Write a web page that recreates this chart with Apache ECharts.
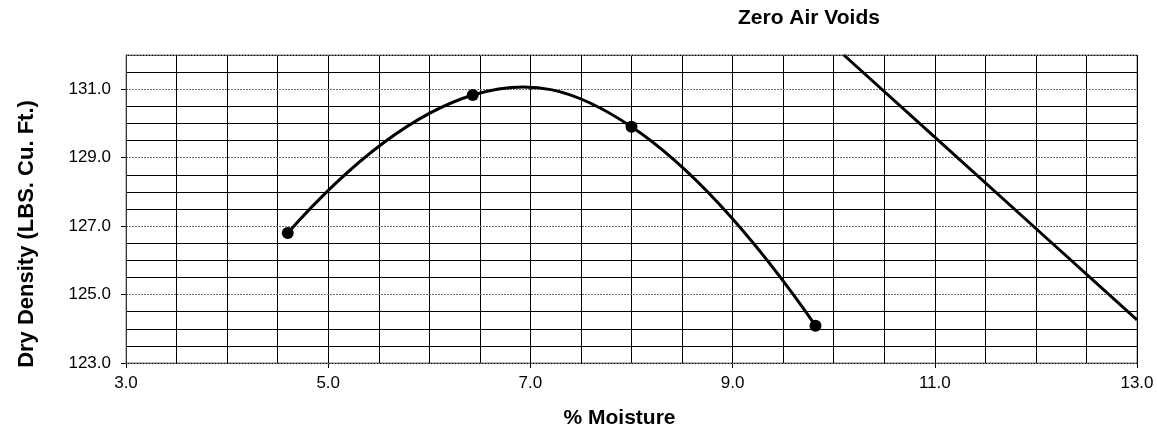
<!DOCTYPE html>
<html>
<head>
<meta charset="utf-8">
<script src="https://cdn.jsdelivr.net/npm/echarts@6/dist/echarts.min.js"></script>
<style>
html,body{margin:0;padding:0;background:#fff;}
#c{width:1157px;height:434px;}
</style>
</head>
<body>
<div id="c"></div>
<script>
// Compaction curve (test points)
const moisture = [4.6, 6.43, 8.0, 9.82];
const density = [126.8, 130.83, 129.9, 124.09];
// Zero air voids line
const zavMoisture = [10.1, 11.0, 12.0, 13.0];
const zavDensity = [132.0, 129.6, 126.93, 124.26];
// Axis settings
const xMin = 3, xMax = 13, xStep = 2;
const yMin = 123, yMax = 132, yStep = 2, yMinorStep = 0.5;

const font = '"Liberation Sans", Arial, sans-serif';
const chart = echarts.init(document.getElementById('c'), null, {renderer: 'canvas'});

const curveData = moisture.map((m, i) => [m, density[i]]);
const zavData = zavMoisture.map((m, i) => [m, zavDensity[i]]);

// Smoothed curve (spreadsheet-style Bezier) through the test points, using the chart's own coordinate conversion
function renderCurve(params, api) {
  if (params.dataIndex !== 0) return null;
  const p = curveData.map(d => api.coord(d));
  const n = p.length;
  const t = new Array(n);
  for (let i = 1; i < n - 1; i++) {
    t[i] = [(p[i + 1][0] - p[i - 1][0]) / 2, (p[i + 1][1] - p[i - 1][1]) / 2];
  }
  t[0] = [2 * (p[1][0] - p[0][0]) - t[1][0], 2 * (p[1][1] - p[0][1]) - t[1][1]];
  t[n - 1] = [2 * (p[n - 1][0] - p[n - 2][0]) - t[n - 2][0], 2 * (p[n - 1][1] - p[n - 2][1]) - t[n - 2][1]];
  let d = 'M' + p[0][0] + ' ' + p[0][1];
  for (let i = 0; i < n - 1; i++) {
    const c1 = [p[i][0] + t[i][0] / 3, p[i][1] + t[i][1] / 3];
    const c2 = [p[i + 1][0] - t[i + 1][0] / 3, p[i + 1][1] - t[i + 1][1] / 3];
    d += ' C' + c1[0] + ' ' + c1[1] + ' ' + c2[0] + ' ' + c2[1] + ' ' + p[i + 1][0] + ' ' + p[i + 1][1];
  }
  return {
    type: 'path',
    shape: {pathData: d},
    style: {fill: 'none', stroke: '#000', lineWidth: 3, lineJoin: 'round', lineCap: 'round'}
  };
}

chart.setOption({
  animation: false,
  backgroundColor: '#fff',
  title: {
    text: 'Zero Air Voids',
    left: 738, top: 8, padding: 0,
    textStyle: {fontFamily: font, fontSize: 21, fontWeight: 'bold', color: '#000'}
  },
  grid: {left: 126, right: 20, top: 55, bottom: 67, show: true, borderColor: '#808080', borderWidth: 1, containLabel: false},
  xAxis: {
    type: 'value', min: xMin, max: xMax, interval: xStep,
    name: '% Moisture', nameLocation: 'middle', nameGap: 45,
    nameTextStyle: {fontFamily: font, fontSize: 21, fontWeight: 'bold', color: '#000', padding: [0, 24, 0, 0]},
    axisLine: {show: true, lineStyle: {color: '#000', width: 1}},
    axisTick: {show: true, length: 5, lineStyle: {color: '#000'}},
    axisLabel: {fontFamily: font, fontSize: 17, color: '#000', margin: 12, formatter: v => v.toFixed(1)},
    splitLine: {show: true, lineStyle: {color: '#000', width: 1}},
    minorTick: {show: false, splitNumber: 4},
    minorSplitLine: {show: true, lineStyle: {color: '#000', width: 1}}
  },
  yAxis: [{
    type: 'value', min: yMin, max: yMax, interval: yStep,
    name: 'Dry Density (LBS. Cu. Ft.)', nameLocation: 'middle', nameGap: 88,
    nameTextStyle: {fontFamily: font, fontSize: 22, fontWeight: 'bold', color: '#000', padding: [0, 50, 0, 0]},
    axisLine: {show: true, lineStyle: {color: '#333', width: 1}},
    axisTick: {show: true, length: 5, lineStyle: {color: '#000'}},
    axisLabel: {fontFamily: font, fontSize: 17, color: '#000', margin: 15, showMaxLabel: false,
      formatter: v => (v === yMax ? '' : v.toFixed(1))},
    splitLine: {show: true, lineStyle: {color: '#707070', width: 1, type: [2, 1]}},
    z: 3
  }, {
    type: 'value', min: yMin, max: yMax, interval: yMinorStep, position: 'left',
    axisLine: {show: false}, axisTick: {show: false}, axisLabel: {show: false},
    splitLine: {show: true, lineStyle: {color: ['rgba(0,0,0,0)', '#000', '#000', '#000'], width: 1}},
    z: 2
  }],
  series: [{
    type: 'custom', data: curveData, renderItem: renderCurve, clip: true,
    silent: true, z: 4
  }, {
    type: 'scatter', data: curveData,
    symbol: 'circle', symbolSize: 12,
    itemStyle: {color: '#000', opacity: 1},
    z: 5
  }, {
    type: 'line', data: zavData, smooth: false, showSymbol: false, symbol: 'none',
    lineStyle: {color: '#000', width: 3}, clip: true,
    z: 5
  }]
});
</script>
</body>
</html>
